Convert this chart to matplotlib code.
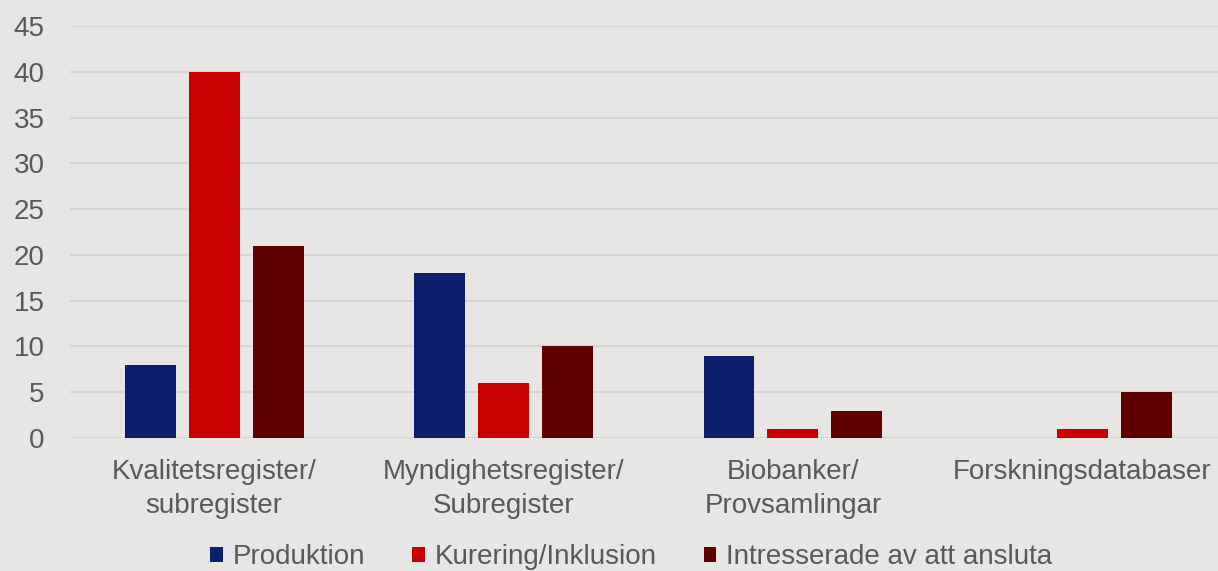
import numpy as np
import matplotlib
matplotlib.use('Agg')
import matplotlib.pyplot as plt

categories = ['Kvalitetsregister/\nsubregister', 'Myndighetsregister/\nSubregister',
              'Biobanker/\nProvsamlingar', 'Forskningsdatabaser']
series_names = ['Produktion', 'Kurering/Inklusion', 'Intresserade av att ansluta']
produktion = [8, 18, 9, 0]
kurering = [40, 6, 1, 1]
intresserade = [21, 10, 3, 5]

colors = ['#0b1f6e', '#c80000', '#600000']
bg = '#e7e6e5'
txt = '#595959'

plt.rcParams['font.family'] = ['Liberation Sans', 'DejaVu Sans']

fig = plt.figure(figsize=(12.18, 5.71), dpi=100, facecolor=bg)
ax = fig.add_axes([69.5 / 1218, 1 - 438 / 571, (1227 - 69.5) / 1218, (438 - 26) / 571])
ax.set_facecolor(bg)

x = np.arange(len(categories))
width = 0.176
step = 0.221
handles = []
for i, vals in enumerate([produktion, kurering, intresserade]):
    h = ax.bar(x + (i - 1) * step, vals, width, color=colors[i], zorder=3)
    handles.append(h)

ax.set_xlim(-0.5, len(categories) - 0.5)
ax.set_ylim(0, 45)
ax.set_yticks(np.arange(0, 46, 5))
ax.set_xticks(x)
ax.set_xticklabels(categories, fontsize=20, color=txt, linespacing=1.4)
ax.tick_params(axis='y', labelsize=20, labelcolor=txt, length=0, pad=18)
ax.tick_params(axis='x', length=0, pad=15)
ax.grid(True, axis='y', color='#d6d5d4', linewidth=1.5, zorder=0)
for s in ax.spines.values():
    s.set_visible(False)

leg = fig.legend(handles, series_names, loc='center', bbox_to_anchor=(631 / 1218, 1 - 557 / 571),
                 ncol=3, frameon=False, fontsize=20,
                 handlelength=0.45, handleheight=0.45,
                 handletextpad=0.35, columnspacing=1.7, labelcolor=txt)

fig.savefig('out.png', dpi=100, facecolor=bg)
